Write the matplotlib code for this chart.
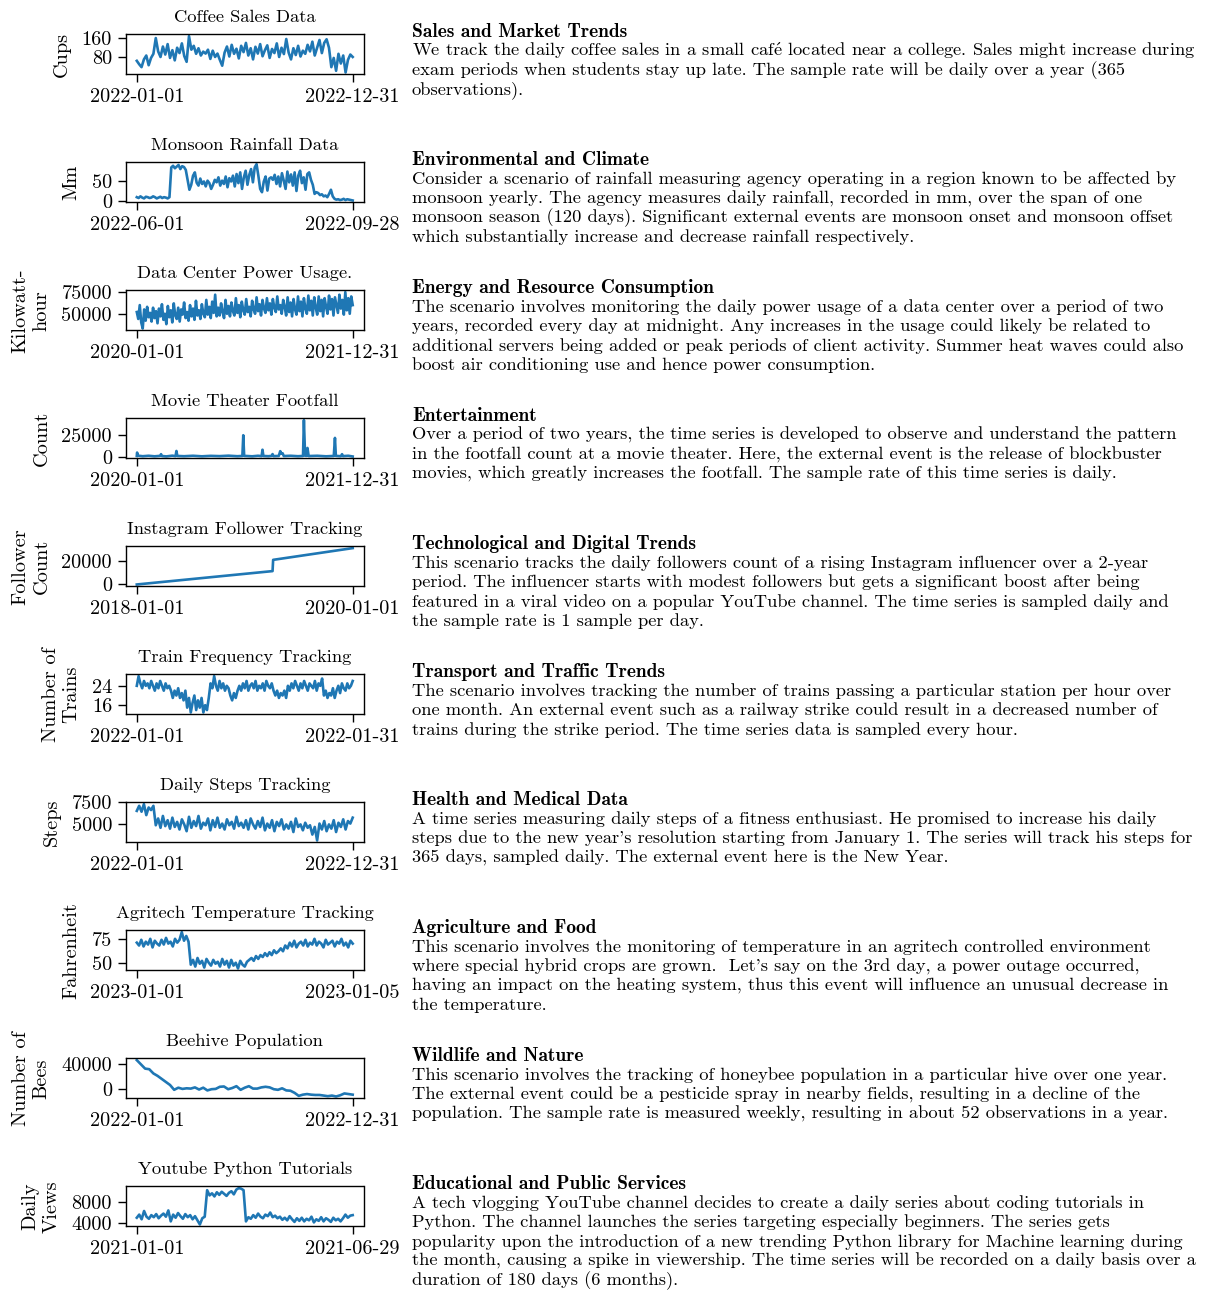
import matplotlib
matplotlib.use("Agg")
import matplotlib.pyplot as plt
import pandas as pd

plt.rcParams['font.family'] = ['cmr10', 'DejaVu Serif']
plt.rcParams['mathtext.fontset'] = 'cm'
plt.rcParams['axes.unicode_minus'] = False
plt.rcParams['axes.formatter.use_mathtext'] = True

# ---- data ----
coffee_cups = [66, 52, 40, 72, 88, 48, 78, 95, 160, 105, 82, 125, 92, 135, 78, 110,
               68, 120, 98, 138, 86, 62, 168, 112, 128, 95, 118, 88, 104, 96, 112, 74,
               108, 82, 96, 70, 46, 100, 125, 84, 132, 95, 116, 76, 128, 102, 140, 88,
               118, 72, 124, 96, 135, 85, 110, 130, 78, 115, 98, 138, 82, 120, 94, 156,
               100, 72, 118, 90, 128, 84, 108, 95, 132, 105, 145, 88, 120, 152, 98, 140,
               155, 120, 40, 78, 25, 95, 55, 88, 18, 70, 92, 82]

rain_mm = [10, 8, 12, 9, 7, 11, 10, 8, 9, 12, 10, 7, 9, 11, 8, 10, 9, 7, 10,
           82, 86, 80, 84, 88, 78, 85, 83, 76,
           52, 28, 40, 62, 70, 45, 38,
           55, 42, 48, 36, 50, 44, 30, 40,
           52, 46, 58, 38, 50, 42, 60, 34, 56, 48,
           62, 36, 66, 44, 70, 30, 58, 74, 40, 64, 78, 46, 82, 90,
           62, 30, 22, 48, 60, 26, 55, 58, 52, 64, 42,
           60, 36, 68, 50, 30, 72, 46, 65, 38, 70,
           25, 62, 74, 44, 58, 28, 66, 70, 52, 40,
           18, 22, 20, 15, 17, 12, 14, 10, 18, 28, 12,
           6, 4, 5, 3, 4, 6, 3, 5, 4, 3, 2]

power_kwh = [52000, 44000, 60000, 40000, 33000, 55000, 42000, 58000, 46000, 51000,
             41000, 57000, 45000, 53000, 39000, 56000, 47000, 61000, 43000, 50000,
             38000, 59000, 46000, 54000, 40000, 62000, 48000, 44000, 57000, 41000,
             55000, 49000, 63000, 45000, 52000, 42000, 60000, 47000, 56000, 43000,
             65000, 48000, 54000, 44000, 61000, 50000, 46000, 66000, 49000, 58000,
             45000, 64000, 51000, 72000, 47000, 57000, 48000, 62000, 52000, 45000,
             66000, 50000, 59000, 47000, 63000, 53000, 48000, 68000, 51000, 60000,
             46000, 64000, 54000, 49000, 67000, 52000, 58000, 47000, 65000, 55000,
             50000, 69000, 53000, 61000, 48000, 66000, 56000, 51000, 68000, 54000,
             62000, 49000, 67000, 57000, 52000, 70000, 55000, 60000, 50000, 66000,
             58000, 48000, 69000, 52000, 63000, 47000, 67000, 55000, 49000, 70000,
             53000, 64000, 47000, 68000, 56000, 50000, 71000, 54000, 65000, 48000,
             69000, 57000, 49000, 70000, 53000, 66000, 47000, 68000, 58000, 50000,
             71000, 55000, 67000, 48000, 69000, 60000, 51000, 72000, 56000, 66000,
             49000, 75000, 54000, 68000, 50000, 70000, 60000]

movie_days = [0, 1, 4, 20, 40, 60, 79, 82, 85, 100, 120, 131, 134, 137, 160, 190,
              220, 250, 280, 310, 340, 357, 360, 363, 390, 410, 422, 425, 428, 445,
              456, 459, 462, 480, 485, 489, 493, 497, 520, 545, 562, 565, 569, 574,
              577, 581, 610, 640, 666, 670, 673, 690, 694, 697, 715, 730]
movie_count = [1200, 5000, 1500, 900, 1400, 800, 1300, 3200, 1100, 700, 1500, 1000,
               6800, 1200, 900, 1400, 800, 1300, 1000, 1500, 900, 1200, 24500, 1300,
               800, 1400, 1000, 8200, 1200, 900, 1300, 3300, 1000, 1200, 6600, 3800,
               4200, 1100, 1400, 900, 1200, 41500, 1500, 1300, 10200, 1100, 1400, 800,
               1200, 21500, 1300, 900, 3200, 1000, 1400, 600]

insta_days = [0, 459, 461, 730]
insta_followers = [0, 11400, 21000, 31000]

trains = [24, 28, 25, 23, 26, 24, 25, 23, 26, 24, 22, 25, 23, 26, 24, 22, 25, 23, 24, 22,
          19, 22, 20, 23, 19, 21, 18, 22,
          15, 19, 13, 17, 20, 14, 18, 15, 19, 13, 16, 14, 19,
          25, 23, 28, 24, 22, 26, 23, 25, 22, 24, 23,
          20, 18, 21, 19, 22,
          24, 22, 25, 23, 26, 22, 24, 25, 23, 26, 22, 24, 23, 25, 22, 26, 24, 23, 25, 22,
          20, 22, 19, 21, 20, 22, 19,
          24, 22, 25, 23, 26, 24, 22, 25, 23, 26, 24, 22, 25, 24, 23, 26, 22, 25, 24, 27,
          20, 22, 19, 21, 20, 23, 19,
          22, 24, 21, 25, 23, 22, 25, 23, 24, 26]

steps = [6500, 7100, 6400, 7300, 6000, 6900, 6600, 7100,
         4800, 5600, 4500, 5900, 4700, 5400, 4400, 5700, 4600, 5200, 4300, 5500,
         4900, 4100, 5800, 4500, 5300, 4700, 5900, 4400, 5100, 4800, 5600, 4200,
         5400, 4600, 5700, 4500, 5000, 4300, 5500, 4800, 5200, 4400, 5800, 4700,
         5100, 4500, 5400, 4300, 5600, 4900, 4400, 5300, 4600, 5700, 4200, 5000,
         4500, 5400, 4100, 5200, 4700, 5500, 4300, 4900, 4400, 5200, 4000, 5600,
         4600, 4900, 4200, 5100, 4500, 4800, 3700, 4600, 3000, 5000, 4300, 5300,
         4100, 4900, 4400, 5400, 4000, 5100, 4600, 5500, 4300, 5300, 5000, 5700]

temp_f = [71, 68, 74, 67, 72, 69, 75, 66, 73, 70, 68, 74,
          69, 76, 70, 72, 67, 75, 71, 74, 82, 73, 78, 72,
          48, 53, 46, 55, 49, 52, 45, 54, 50, 47, 53, 49,
          51, 46, 54, 48, 52, 45, 53, 47, 50, 44, 52, 48, 46, 51,
          53, 55, 52, 57, 54, 58, 56, 60, 57, 61, 58, 63, 60, 62, 65, 62,
          68, 65, 71, 67, 73, 66, 70, 72, 68, 74, 67, 71, 69, 75, 68, 72,
          70, 66, 74, 69, 71, 73, 67, 72, 70, 75, 68, 71, 66, 73, 70]

bees = [47000, 40000, 33000, 32000, 25000, 21000, 16000, 11000, 6000, -2000, 1500,
        -500, 500, 0, 2000, -1500, 1500, -3000, -1000, -500, 3000, 3500, -1000, 1000,
        4000, -2000, 1500, 4000, 0, 0, 2000, 3000, 2000, -1000, -2000, 500, -3000,
        -3500, -7000, -12000, -10000, -9000, -10000, -10500, -10500, -11500, -12500,
        -11500, -13000, -11000, -8000, -9000, -10000]

views = [5000, 5600, 4700, 6300, 5200, 4800, 5500, 5100, 5700, 4900, 5400, 5800, 5200,
         6400, 4300, 5600, 5000, 5900, 5300, 4800, 5700, 5100, 5500, 4700, 5300, 4500,
         3700, 4900, 5200,
         10300, 9300, 9700, 9100, 9900, 9400, 10000, 9600, 9200, 9800, 10100, 9500,
         10400, 10700, 10600, 10300,
         4300, 5100, 4800, 5500, 5000, 5800, 5200, 4900, 5600, 5300, 6000, 5100, 5400,
         4900, 5200,
         4600, 5000, 4500, 5300, 4700, 4200, 4900, 4400, 5000, 4300, 4800, 4500, 5200,
         4100, 4700,
         4400, 5100, 4300, 4900, 4600, 4200, 5000, 4500, 4800, 4300, 4900, 5600, 5000,
         5400, 5500]

titles = ["Coffee Sales Data", "Monsoon Rainfall Data", "Data Center Power Usage.",
          "Movie Theater Footfall", "Instagram Follower Tracking",
          "Train Frequency Tracking", "Daily Steps Tracking",
          "Agritech Temperature Tracking", "Beehive Population",
          "Youtube Python Tutorials"]
ylabels = ["Cups", "Mm", "Kilowatt-\nhour", "Count", "Follower\nCount",
           "Number of\nTrains", "Steps", "Fahrenheit", "Number of\nBees",
           "Daily\nViews"]
starts = ["2022-01-01", "2022-06-01", "2020-01-01", "2020-01-01", "2018-01-01",
          "2022-01-01", "2022-01-01", "2023-01-01", "2022-01-01", "2021-01-01"]
ends = ["2022-12-31", "2022-09-28", "2021-12-31", "2021-12-31", "2020-01-01",
        "2022-01-31", "2022-12-31", "2023-01-05", "2022-12-31", "2021-06-29"]
yticks = [[80, 160], [0, 50], [50000, 75000], [0, 25000], [0, 20000],
          [16, 24], [5000, 7500], [50, 75], [0, 40000], [4000, 8000]]

headings = ["Sales and Market Trends", "Environmental and Climate",
            "Energy and Resource Consumption", "Entertainment",
            "Technological and Digital Trends", "Transport and Traffic Trends",
            "Health and Medical Data", "Agriculture and Food",
            "Wildlife and Nature", "Educational and Public Services"]
bodies = [
    "We track the daily coffee sales in a small caf$\\mathrm{\\acute{e}}$ located near a college. Sales might increase during\n"
    "exam periods when students stay up late. The sample rate will be daily over a year (365\n"
    "observations).",
    "Consider a scenario of rainfall measuring agency operating in a region known to be affected by\n"
    "monsoon yearly. The agency measures daily rainfall, recorded in mm, over the span of one\n"
    "monsoon season (120 days). Significant external events are monsoon onset and monsoon offset\n"
    "which substantially increase and decrease rainfall respectively.",
    "The scenario involves monitoring the daily power usage of a data center over a period of two\n"
    "years, recorded every day at midnight. Any increases in the usage could likely be related to\n"
    "additional servers being added or peak periods of client activity. Summer heat waves could also\n"
    "boost air conditioning use and hence power consumption.",
    "Over a period of two years, the time series is developed to observe and understand the pattern\n"
    "in the footfall count at a movie theater. Here, the external event is the release of blockbuster\n"
    "movies, which greatly increases the footfall. The sample rate of this time series is daily.",
    "This scenario tracks the daily followers count of a rising Instagram influencer over a 2-year\n"
    "period. The influencer starts with modest followers but gets a significant boost after being\n"
    "featured in a viral video on a popular YouTube channel. The time series is sampled daily and\n"
    "the sample rate is 1 sample per day.",
    "The scenario involves tracking the number of trains passing a particular station per hour over\n"
    "one month. An external event such as a railway strike could result in a decreased number of\n"
    "trains during the strike period. The time series data is sampled every hour.",
    "A time series measuring daily steps of a fitness enthusiast. He promised to increase his daily\n"
    "steps due to the new year's resolution starting from January 1. The series will track his steps for\n"
    "365 days, sampled daily. The external event here is the New Year.",
    "This scenario involves the monitoring of temperature in an agritech controlled environment\n"
    "where special hybrid crops are grown.  Let's say on the 3rd day, a power outage occurred,\n"
    "having an impact on the heating system, thus this event will influence an unusual decrease in\n"
    "the temperature.",
    "This scenario involves the tracking of honeybee population in a particular hive over one year.\n"
    "The external event could be a pesticide spray in nearby fields, resulting in a decline of the\n"
    "population. The sample rate is measured weekly, resulting in about 52 observations in a year.",
    "A tech vlogging YouTube channel decides to create a daily series about coding tutorials in\n"
    "Python. The channel launches the series targeting especially beginners. The series gets\n"
    "popularity upon the introduction of a new trending Python library for Machine learning during\n"
    "the month, causing a spike in viewership. The time series will be recorded on a daily basis over a\n"
    "duration of 180 days (6 months).",
]


def even_dates(i, vals):
    return pd.date_range(starts[i], ends[i], periods=len(vals))


def offset_dates(i, days):
    return pd.Timestamp(starts[i]) + pd.to_timedelta(days, unit="D")


series = [
    (even_dates(0, coffee_cups), coffee_cups),
    (even_dates(1, rain_mm), rain_mm),
    (even_dates(2, power_kwh), power_kwh),
    (offset_dates(3, movie_days), movie_count),
    (offset_dates(4, insta_days), insta_followers),
    (even_dates(5, trains), trains),
    (even_dates(6, steps), steps),
    (even_dates(7, temp_f), temp_f),
    (even_dates(8, bees), bees),
    (even_dates(9, views), views),
]

W, H = 1210, 1290
fig = plt.figure(figsize=(W / 100, H / 100), dpi=100)

for i, (x, y) in enumerate(series):
    top = 34.3 + i * 128
    ax = fig.add_axes([126 / W, 1 - (top + 40) / H, 237.5 / W, 40 / H])
    ax.plot(x, y, color="#1f77b4", lw=1.9)
    ax.set_xticks([pd.Timestamp(starts[i]), pd.Timestamp(ends[i])])
    ax.set_xticklabels([starts[i], ends[i]])
    ax.set_yticks(yticks[i])
    ax.set_yticklabels([str(v) for v in yticks[i]])
    ax.tick_params(labelsize=14.6, length=5.5, width=1.0, pad=4.5)
    ax.set_ylabel(ylabels[i], fontsize=14.6, labelpad=8)
    ax.set_title(titles[i], fontsize=13.3, pad=9)
    for s in ax.spines.values():
        s.set_linewidth(1.0)

    fig.text(412 / W, 1 - (top + 3) / H, headings[i], fontsize=14,
             family=["cmb10", "DejaVu Serif"], va="baseline")
    for k, line in enumerate(bodies[i].split("\n")):
        fig.text(412 / W, 1 - (top + 21.5 + k * 19.4) / H, line, fontsize=13.3,
                 va="baseline")

fig.savefig("out.png", dpi=100)
